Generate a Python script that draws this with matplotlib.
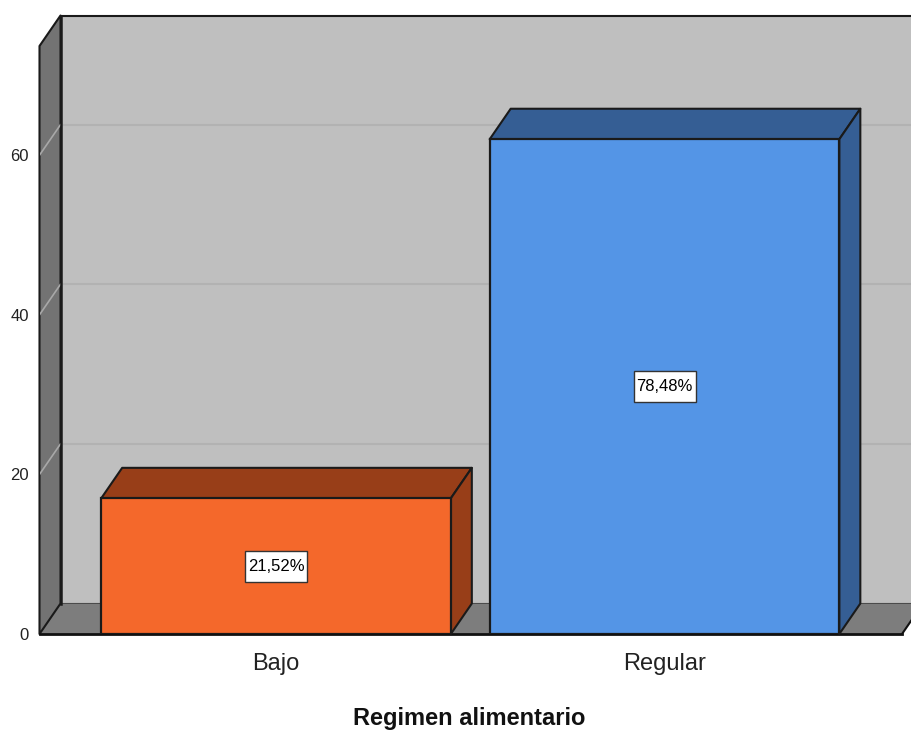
# Bar chart with a 3D look: regimen alimentario
import matplotlib
matplotlib.use('Agg')
import matplotlib.pyplot as plt
from matplotlib.patches import Polygon, Rectangle

categories = ['Bajo', 'Regular']
counts = [17, 62]
pct_labels = ['21,52%', '78,48%']
bar_colors = ['#F4682B', '#5495E6']
top_colors = ['#983E18', '#355E94']
side_colors = ['#983E18', '#355E94']
y_ticks = [0, 20, 40, 60]
x_title = 'Regimen alimentario'

plt.rcParams['font.family'] = ['Liberation Sans', 'DejaVu Sans']

W, H = 912, 734
fig = plt.figure(figsize=(W / 100, H / 100), dpi=100, facecolor='white')

# axes frame goes from the front-left corner to the image's right edge
left, right, bottom, top = 39.5, 912, 634, 46
ax = fig.add_axes([left / W, 1 - bottom / H, (right - left) / W, (bottom - top) / H])
px_x = 388.5  # pixels per category step
px_y = 7.98   # pixels per count
ax.set_xlim((left - 276) / px_x, (right - 276) / px_x)
ax.set_ylim(0, (bottom - top) / px_y)
ax.patch.set_visible(False)

# depth of the fake 3D box, in data units
dx = 21 / px_x
dy = 30.5 / px_y
x0, x1 = ax.get_xlim()
y_top = ax.get_ylim()[1]
edge = '#1A1A1A'
floor_right = x0 + (902 - left) / px_x


def poly(pts, face, z, lw=1.5, ec=edge):
    p = Polygon(pts, closed=True, facecolor=face, edgecolor=ec, linewidth=lw,
                joinstyle='round', zorder=z, clip_on=False)
    ax.add_patch(p)


# back wall, left wall, floor
poly([(x0 + dx, dy), (x1 + 1, dy), (x1 + 1, y_top + dy), (x0 + dx, y_top + dy)], '#BFBFBF', 1)
poly([(x0, 0), (x0 + dx, dy), (x0 + dx, y_top + dy), (x0, y_top)], '#737373', 3)
poly([(x0, 0), (x0 + dx, dy), (x1 + 1, dy), (x1 + 1, dy), (floor_right + dx, dy), (floor_right, 0)],
     '#7D7D7D', 2, lw=0)
ax.plot([x0 + dx, x0 + dx], [dy, y_top + dy], color=edge, lw=1.8, zorder=4, clip_on=False)
ax.plot([x0, floor_right], [0, 0], color='#111111', lw=2, zorder=5, clip_on=False)
ax.plot([floor_right, x1], [0, (x1 - floor_right) / dx * dy], color='#111111', lw=1.5, zorder=5)

# grid lines on the walls
for t in y_ticks[1:]:
    ax.plot([x0 + dx, x1], [t + dy, t + dy], color='#B2B2B2', lw=1.5, zorder=1.5, clip_on=False)
    ax.plot([x0, x0 + dx], [t, t + dy], color='#A8A8A8', lw=1.2, zorder=3.5)

# bars: front face from ax.bar, top and side faces follow the same values
width = 0.9
ax.bar(range(len(categories)), counts, width=width, color=bar_colors, edgecolor=edge,
       linewidth=1.6, zorder=7)
box_w = 62 / px_x
box_h = 31 / px_y
for i, v in enumerate(counts):
    a, b = i - width / 2, i + width / 2
    poly([(a, v), (a + dx, v + dy), (b + dx, v + dy), (b, v)], top_colors[i], 6)
    poly([(b, 0), (b + dx, dy), (b + dx, v + dy), (b, v)], side_colors[i], 6)
    ax.add_patch(Rectangle((i - box_w / 2, v / 2 - box_h / 2), box_w, box_h, facecolor='white',
                           edgecolor='#333333', linewidth=1.0, zorder=8))
    ax.text(i, v / 2, pct_labels[i], ha='center', va='center', fontsize=12,
            color='black', zorder=9)

ax.set_xticks(range(len(categories)))
ax.set_xticklabels(categories, fontsize=17, color='#222222')
ax.set_yticks(y_ticks)
ax.set_yticklabels([str(t) for t in y_ticks], fontsize=12, color='#222222')
ax.tick_params(axis='both', length=0)
ax.tick_params(axis='x', pad=14)
ax.tick_params(axis='y', pad=7.5)
for s in ax.spines.values():
    s.set_visible(False)

fig.text(469 / W, 1 - 718 / H, x_title, ha='center', va='center', fontsize=17,
         fontweight='bold', color='#111111')

fig.savefig('out.png', dpi=100)
